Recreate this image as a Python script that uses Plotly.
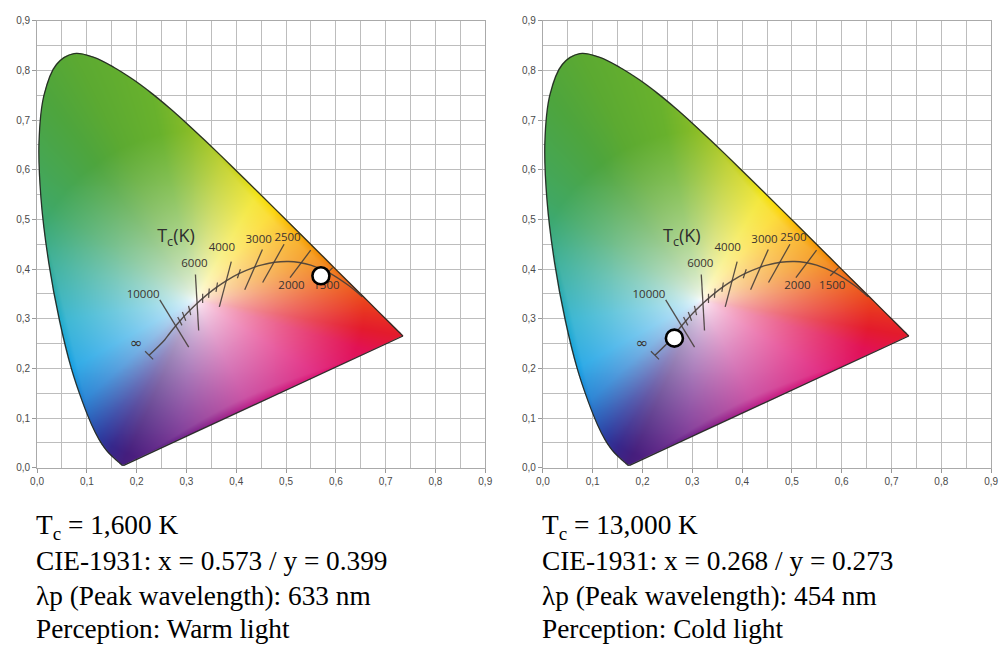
import numpy as np
import zlib, struct, base64
import plotly.graph_objects as go

# ---------------- data ----------------
# CIE 1931 spectral locus (x, y)
spec_x = [0.1741, 0.1714, 0.1689, 0.1644, 0.1566, 0.1440, 0.1355, 0.1241, 0.1096, 0.0913, 0.0687,
          0.0454, 0.0235, 0.0082, 0.0039, 0.0139, 0.0389, 0.0743, 0.1142, 0.1547, 0.1929, 0.2296,
          0.2658, 0.3016, 0.3373, 0.3731, 0.4087, 0.4441, 0.4788, 0.5125, 0.5448, 0.5752, 0.6029,
          0.6270, 0.6482, 0.6658, 0.6915, 0.7079, 0.7190, 0.7260, 0.7300, 0.7334, 0.7347]
spec_y = [0.0050, 0.0051, 0.0069, 0.0109, 0.0177, 0.0297, 0.0399, 0.0578, 0.0868, 0.1327, 0.2007,
          0.2950, 0.4127, 0.5384, 0.6548, 0.7502, 0.8120, 0.8338, 0.8262, 0.8059, 0.7816, 0.7543,
          0.7243, 0.6923, 0.6589, 0.6245, 0.5896, 0.5547, 0.5202, 0.4866, 0.4544, 0.4242, 0.3965,
          0.3725, 0.3514, 0.3340, 0.3083, 0.2920, 0.2809, 0.2740, 0.2700, 0.2666, 0.2653]

# edge colour anchors (boundary point, colour seen at the edge)
anchor_x = [0.1741, 0.1440, 0.1241, 0.0913, 0.0687, 0.0454, 0.0235, 0.0082, 0.0139, 0.0743,
            0.2296, 0.3016, 0.3731, 0.4441, 0.4788, 0.5125, 0.5752, 0.6270, 0.6915, 0.7347,
            0.6674, 0.5665, 0.4264, 0.2862]
anchor_y = [0.0050, 0.0297, 0.0578, 0.1327, 0.2007, 0.2950, 0.4127, 0.5384, 0.7502, 0.8338,
            0.7543, 0.6923, 0.6245, 0.5547, 0.5202, 0.4866, 0.4242, 0.3725, 0.3083, 0.2653,
            0.2339, 0.1870, 0.1221, 0.0570]
anchor_rgb = [(70, 30, 125), (55, 40, 140), (45, 60, 160), (30, 125, 210), (20, 160, 228),
              (30, 172, 205), (50, 172, 150), (65, 168, 100), (78, 165, 62), (92, 170, 50),
              (105, 178, 45), (135, 188, 40), (185, 205, 30), (242, 226, 10), (252, 212, 0),
              (250, 180, 0), (243, 135, 0), (238, 95, 20), (232, 50, 35), (228, 28, 45),
              (226, 18, 85), (222, 22, 118), (188, 32, 138), (112, 35, 140)]

# Planckian locus (from infinity down to 1000 K)
locus_T = ["inf", 20000, 15000, 10000, 9000, 8000, 7000, 6000, 5500, 5000, 4500, 4000, 3500,
           3000, 2800, 2500, 2200, 2000, 1800, 1500, 1200, 1000]
locus_x = [0.2250, 0.2565, 0.2637, 0.2807, 0.2867, 0.2952, 0.3064, 0.3221, 0.3325, 0.3451, 0.3608,
           0.3805, 0.4053, 0.4369, 0.4520, 0.4770, 0.5052, 0.5267, 0.5496, 0.5857, 0.6251, 0.6528]
locus_y = [0.2264, 0.2577, 0.2674, 0.2884, 0.2952, 0.3048, 0.3166, 0.3318, 0.3411, 0.3516, 0.3636,
           0.3768, 0.3907, 0.4041, 0.4086, 0.4137, 0.4152, 0.4133, 0.4081, 0.3931, 0.3674, 0.3444]

# isotherm lines (labelled)
iso_T = [10000, 6000, 4000, 3000, 2500, 2000, 1500]
iso_x0 = [0.2465, 0.3180, 0.3900, 0.4525, 0.4960, 0.5495, 0.5937]
iso_y0 = [0.3380, 0.3890, 0.4150, 0.4395, 0.4500, 0.4380, 0.4030]
iso_x1 = [0.3045, 0.3245, 0.3660, 0.4170, 0.4530, 0.5080, 0.5770]
iso_y1 = [0.2430, 0.2765, 0.3240, 0.3585, 0.3730, 0.3830, 0.3865]

# temperature labels
lab_text = ["10000", "6000", "4000", "3000", "2500", "2000", "1500"]
lab_x = [0.213, 0.316, 0.371, 0.445, 0.503, 0.511, 0.581]
lab_y = [0.347, 0.410, 0.443, 0.459, 0.463, 0.365, 0.365]
inf_x, inf_y = 0.199, 0.249

# small ticks on the locus
tick_T = [9000, 8000, 7000, 5500, 5000, 4500, 3500]

# measured light sources
dot_x = [0.570, 0.264]
dot_y = [0.3865, 0.261]

info_left = ["T<sub>c</sub> = 1,600 K", "CIE-1931: x = 0.573 / y = 0.399",
             "λp (Peak wavelength): 633 nm", "Perception: Warm light"]
info_right = ["T<sub>c</sub> = 13,000 K", "CIE-1931: x = 0.268 / y = 0.273",
              "λp (Peak wavelength): 454 nm", "Perception: Cold light"]

tick_vals = [0.0, 0.1, 0.2, 0.3, 0.4, 0.5, 0.6, 0.7, 0.8, 0.9]
tick_text = ["0,0", "0,1", "0,2", "0,3", "0,4", "0,5", "0,6", "0,7", "0,8", "0,9"]


# ---------------- colour image of the gamut ----------------
def catmull(xs_, ys_, n=24):
    p = np.c_[xs_, ys_]
    out = []
    for i in range(len(p) - 1):
        p0 = p[max(i - 1, 0)]; p1 = p[i]; p2 = p[i + 1]; p3 = p[min(i + 2, len(p) - 1)]
        t = np.linspace(0, 1, n, endpoint=False)[:, None]
        out.append(0.5 * ((2 * p1) + (-p0 + p2) * t + (2 * p0 - 5 * p1 + 4 * p2 - p3) * t ** 2
                          + (-p0 + 3 * p1 - 3 * p2 + p3) * t ** 3))
    out.append(p[-1:])
    return np.vstack(out)


step = 0.9 / 454
nx = int(np.ceil(0.76 / step))
ny = int(np.ceil(0.86 / step))
xs = (np.arange(nx) + 0.5) * step
ys = (np.arange(ny) + 0.5) * step
X, Y = np.meshgrid(xs, ys)
Wx, Wy = 0.318, 0.338
dX, dY = X - Wx, Y - Wy
rr = np.hypot(dX, dY)
th = np.arctan2(dY, dX)

S = catmull(spec_x, spec_y)
bnd = np.vstack([S, S[:1]])
pts = []
for i in range(len(bnd) - 1):
    t = np.linspace(0, 1, 6 if i < len(bnd) - 2 else 600, endpoint=False)[:, None]
    pts.append(bnd[i] + (bnd[i + 1] - bnd[i]) * t)
P = np.vstack(pts)
ba = np.arctan2(P[:, 1] - Wy, P[:, 0] - Wx)
br = np.hypot(P[:, 1] - Wy, P[:, 0] - Wx)
o = np.argsort(ba)
ba, br = ba[o], br[o]
R = np.interp(th, np.r_[ba - 2 * np.pi, ba, ba + 2 * np.pi], np.r_[br, br, br])

aa = np.arctan2(np.array(anchor_y) - Wy, np.array(anchor_x) - Wx)
ac = np.array(anchor_rgb, dtype=float)
o = np.argsort(aa)
aa, ac = aa[o], ac[o]
aa_ext = np.r_[aa - 2 * np.pi, aa, aa + 2 * np.pi]
edge = np.stack([np.interp(th, aa_ext, np.r_[ac[:, k], ac[:, k], ac[:, k]]) for k in range(3)], -1)

s = np.clip(rr / 0.34, 0, 1) ** 0.62
s = np.maximum(s, np.clip(rr / R, 0, 1) ** 3)
rgb = 255 * (1 - s[..., None]) + edge * s[..., None]
alpha = np.clip((R - rr) / step + 0.8, 0, 1) * 255
img = np.concatenate([rgb, alpha[..., None]], -1).clip(0, 255).astype(np.uint8)


def png_uri(a):
    h, w, _ = a.shape
    raw = b"".join(b"\x00" + a[i].tobytes() for i in range(h))

    def chunk(tag, data):
        c = struct.pack(">I", len(data)) + tag + data
        return c + struct.pack(">I", zlib.crc32(tag + data) & 0xFFFFFFFF)

    png = (b"\x89PNG\r\n\x1a\n" + chunk(b"IHDR", struct.pack(">IIBBBBB", w, h, 8, 6, 0, 0, 0))
           + chunk(b"IDAT", zlib.compress(raw, 9)) + chunk(b"IEND", b""))
    return "data:image/png;base64," + base64.b64encode(png).decode()


uri = png_uri(img)

# ---------------- geometry helpers ----------------
mired_iso = 1e6 / np.array(iso_T[:4], dtype=float)
ang_iso = np.arctan2(np.array(iso_y1[:4]) - np.array(iso_y0[:4]),
                     np.array(iso_x1[:4]) - np.array(iso_x0[:4]))
tk_x, tk_y = [], []
for T in tick_T:
    i = locus_T.index(T)
    cx, cy = locus_x[i], locus_y[i]
    a = np.interp(1e6 / T, mired_iso, ang_iso)
    h = 0.0095
    tk_x += [cx - h * np.cos(a), cx + h * np.cos(a), None]
    tk_y += [cy - h * np.sin(a), cy + h * np.sin(a), None]
sa = np.arctan2(locus_y[1] - locus_y[0], locus_x[1] - locus_x[0]) + np.pi / 2
h = 0.0115
tk_x += [locus_x[0] - h * np.cos(sa), locus_x[0] + h * np.cos(sa), None]
tk_y += [locus_y[0] - h * np.sin(sa), locus_y[0] + h * np.sin(sa), None]

iso_lx, iso_ly = [], []
for i in range(len(iso_T)):
    iso_lx += [iso_x0[i], iso_x1[i], None]
    iso_ly += [iso_y0[i], iso_y1[i], None]

# ---------------- figure ----------------
fig = go.Figure()
line_col = "rgba(70,62,58,0.9)"
edge_col = "rgba(35,40,35,0.95)"
lab_font = dict(family="Open Sans, sans-serif", size=11.5, color="#3a3330")
for k, (xa, ya) in enumerate([("x", "y"), ("x2", "y2")]):
    fig.add_trace(go.Image(source=uri, x0=step / 2, dx=step, y0=step / 2, dy=step,
                           xaxis=xa, yaxis=ya, hoverinfo="skip", zsmooth="fast"))
    fig.add_trace(go.Scatter(x=spec_x, y=spec_y, mode="lines", line=dict(color=edge_col, width=1.3),
                             line_shape="spline", xaxis=xa, yaxis=ya, hoverinfo="skip"))
    fig.add_trace(go.Scatter(x=[spec_x[-1], spec_x[0]], y=[spec_y[-1], spec_y[0]], mode="lines",
                             line=dict(color=edge_col, width=1.3), xaxis=xa, yaxis=ya, hoverinfo="skip"))
    fig.add_trace(go.Scatter(x=locus_x, y=locus_y, mode="lines", line=dict(color=line_col, width=1.4),
                             line_shape="spline", xaxis=xa, yaxis=ya, hoverinfo="skip"))
    fig.add_trace(go.Scatter(x=iso_lx, y=iso_ly, mode="lines", line=dict(color=line_col, width=1.3),
                             xaxis=xa, yaxis=ya, hoverinfo="skip"))
    fig.add_trace(go.Scatter(x=tk_x, y=tk_y, mode="lines", line=dict(color=line_col, width=1.2),
                             xaxis=xa, yaxis=ya, hoverinfo="skip"))
    fig.add_trace(go.Scatter(x=lab_x, y=lab_y, mode="text", text=lab_text, textfont=lab_font,
                             xaxis=xa, yaxis=ya, hoverinfo="skip"))
    fig.add_trace(go.Scatter(x=[inf_x], y=[inf_y], mode="text", text=["∞"],
                             textfont=dict(family="DejaVu Sans, sans-serif", size=15, color="#3a3330"),
                             xaxis=xa, yaxis=ya, hoverinfo="skip"))
    fig.add_trace(go.Scatter(x=[0.279], y=[0.463], mode="text", text=["T<sub>c</sub>(K)"],
                             textfont=dict(family="Open Sans, sans-serif", size=18, color="#2e2e2e"),
                             xaxis=xa, yaxis=ya, hoverinfo="skip"))
    fig.add_trace(go.Scatter(x=[dot_x[k]], y=[dot_y[k]], mode="markers",
                             marker=dict(size=17, color="white", line=dict(color="black", width=2.6)),
                             xaxis=xa, yaxis=ya, hoverinfo="skip"))

axis_common = dict(range=[0, 0.9], autorange=False, tickvals=tick_vals, ticktext=tick_text,
                   showgrid=True, gridcolor="#bdbdbd", gridwidth=1,
                   minor=dict(dtick=0.05, tick0=0, showgrid=True, gridcolor="#bdbdbd", gridwidth=1),
                   zeroline=False, showline=True, linecolor="#aaaaaa", linewidth=1, mirror=True,
                   ticks="outside", ticklen=4, tickcolor="#999999",
                   tickfont=dict(family="Liberation Sans, Arial, sans-serif", size=10, color="#4a4a4a"),
                   fixedrange=True)
ydom = [1 - 470 / 651, 1 - 16 / 651]
fig.update_layout(
    width=1005, height=651, margin=dict(l=0, r=0, t=0, b=0),
    paper_bgcolor="white", plot_bgcolor="white", showlegend=False,
    xaxis=dict(domain=[30.5 / 1005, 485 / 1005], anchor="y", **axis_common),
    yaxis=dict(domain=ydom, anchor="x", scaleanchor=False, **axis_common),
    xaxis2=dict(domain=[543.5 / 1005, 998 / 1005], anchor="y2", **axis_common),
    yaxis2=dict(domain=ydom, anchor="x2", scaleanchor=False, **axis_common),
)

centers = [530, 565, 600, 633.5]
for lines, x0 in [(info_left, 27), (info_right, 541)]:
    for txt, cy in zip(lines, centers):
        fig.add_annotation(text=txt, xref="paper", yref="paper", x=x0 / 1005, y=1 - cy / 651,
                           xanchor="left", yanchor="middle", showarrow=False,
                           font=dict(family="Liberation Serif, Times New Roman, serif", size=27.3,
                                     color="black"))

fig.write_html("out.html")
